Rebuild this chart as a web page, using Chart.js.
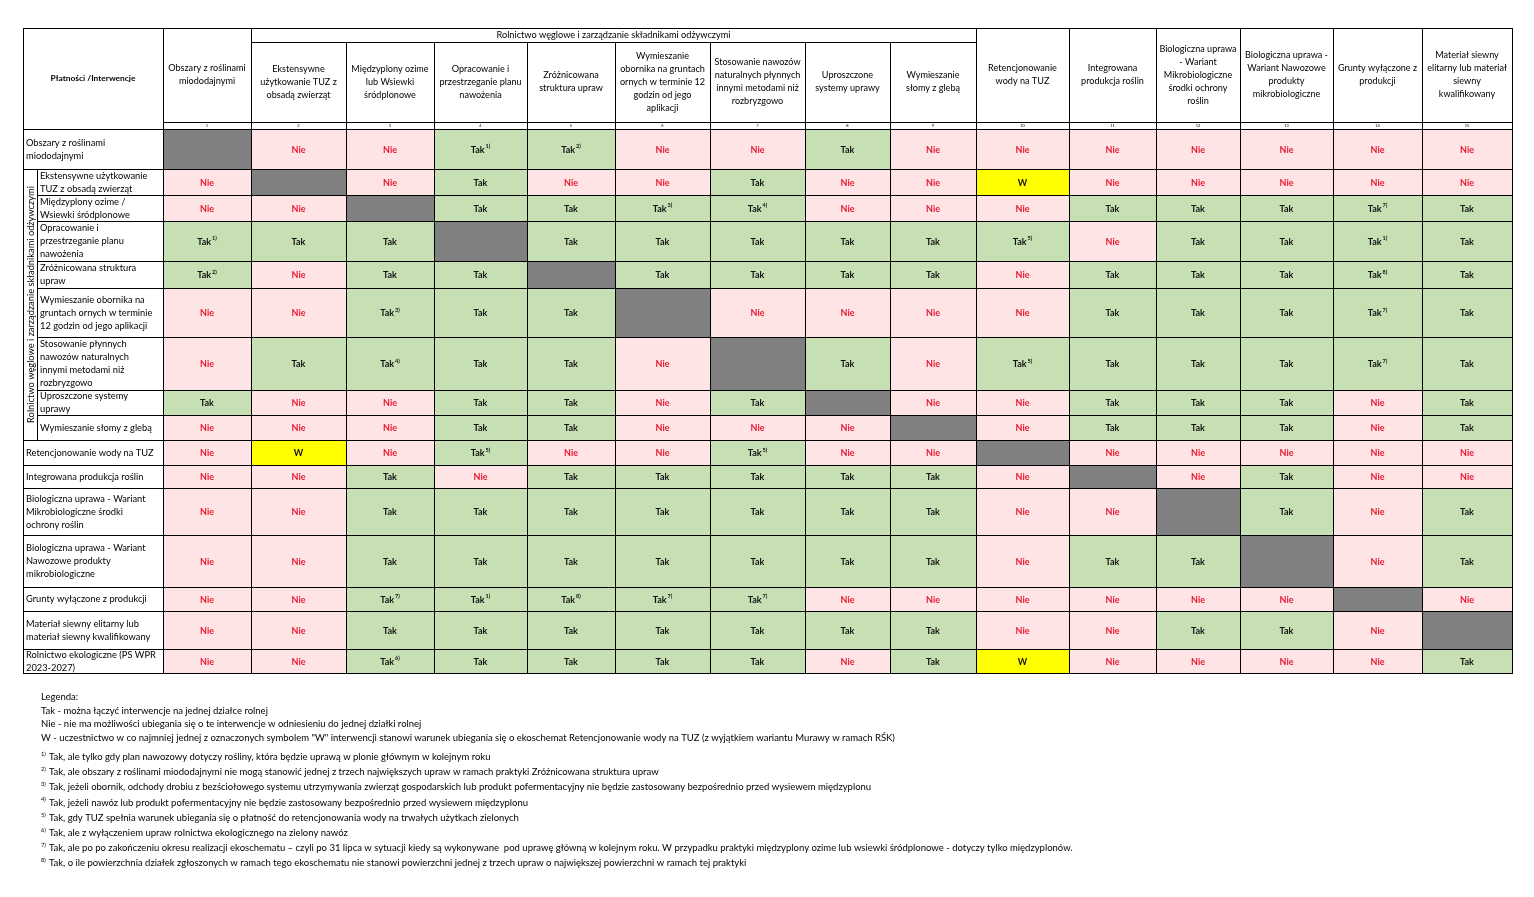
<!DOCTYPE html>
<html lang="pl">
<head>
  <meta charset="UTF-8">
  <title>Łączenie ekoschematów i interwencji</title>
  <script src="https://cdn.jsdelivr.net/npm/chart.js@4.4.0/dist/chart.umd.min.js"></script>
  <style>
    html, body { margin: 0; padding: 0; background: #fff; }
    #wrap { width: 1534px; height: 897px; }
  </style>
</head>
<body>
<div id="wrap"><canvas id="matrix" width="1534" height="897"></canvas></div>
<script>
  // nagłówki kolumn (interwencje)
  const colLabels = [
    ['Obszary z roślinami', 'miododajnymi'],
    ['Ekstensywne', 'użytkowanie TUZ z', 'obsadą zwierząt'],
    ['Międzyplony ozime', 'lub Wsiewki', 'śródplonowe'],
    ['Opracowanie i', 'przestrzeganie planu', 'nawożenia'],
    ['Zróżnicowana', 'struktura upraw'],
    ['Wymieszanie', 'obornika na gruntach', 'ornych w terminie 12', 'godzin od jego', 'aplikacji'],
    ['Stosowanie nawozów', 'naturalnych płynnych', 'innymi metodami niż', 'rozbryzgowo'],
    ['Uproszczone', 'systemy uprawy'],
    ['Wymieszanie', 'słomy z glebą'],
    ['Retencjonowanie', 'wody na TUZ'],
    ['Integrowana', 'produkcja roślin'],
    ['Biologiczna uprawa', '- Wariant', 'Mikrobiologiczne', 'środki ochrony', 'roślin'],
    ['Biologiczna uprawa -', 'Wariant Nawozowe', 'produkty', 'mikrobiologiczne'],
    ['Grunty wyłączone z', 'produkcji'],
    ['Materiał siewny', 'elitarny lub materiał', 'siewny', 'kwalifikowany']
  ];
  const colNumbers = ['1', '2', '3', '4', '5', '6', '7', '8', '9', '10', '11', '12', '13', '14', '15'];
  const cornerLabel = 'Płatności /Interwencje';
  const groupLabel = 'Rolnictwo węglowe i zarządzanie składnikami odżywczymi';
  // kolumny 2-9 i wiersze 2-9 należą do grupy
  const groupCols = [1, 8];
  const groupRows = [1, 8];

  // nagłówki wierszy
  const rowLabels = [
    ['Obszary z roślinami', 'miododajnymi'],
    ['Ekstensywne użytkowanie', 'TUZ z obsadą zwierząt'],
    ['Międzyplony ozime /', 'Wsiewki śródplonowe'],
    ['Opracowanie i', 'przestrzeganie planu', 'nawożenia'],
    ['Zróżnicowana struktura', 'upraw'],
    ['Wymieszanie obornika na', 'gruntach ornych w terminie', '12 godzin od jego aplikacji'],
    ['Stosowanie płynnych', 'nawozów naturalnych', 'innymi metodami niż', 'rozbryzgowo'],
    ['Uproszczone systemy', 'uprawy'],
    ['Wymieszanie słomy z glebą'],
    ['Retencjonowanie wody na TUZ'],
    ['Integrowana produkcja roślin'],
    ['Biologiczna uprawa - Wariant', 'Mikrobiologiczne środki', 'ochrony roślin'],
    ['Biologiczna uprawa - Wariant', 'Nawozowe produkty', 'mikrobiologiczne'],
    ['Grunty wyłączone z produkcji'],
    ['Materiał siewny elitarny lub', 'materiał siewny kwalifikowany'],
    ['Rolnictwo ekologiczne (PS WPR', '2023-2027)']
  ];

  // T = Tak, N = Nie, W = warunek, X = ta sama interwencja; cyfra = numer przypisu
  const matrix = [
    ['X', 'N', 'N', 'T1', 'T2', 'N', 'N', 'T', 'N', 'N', 'N', 'N', 'N', 'N', 'N'],
    ['N', 'X', 'N', 'T', 'N', 'N', 'T', 'N', 'N', 'W', 'N', 'N', 'N', 'N', 'N'],
    ['N', 'N', 'X', 'T', 'T', 'T3', 'T4', 'N', 'N', 'N', 'T', 'T', 'T', 'T7', 'T'],
    ['T1', 'T', 'T', 'X', 'T', 'T', 'T', 'T', 'T', 'T5', 'N', 'T', 'T', 'T1', 'T'],
    ['T2', 'N', 'T', 'T', 'X', 'T', 'T', 'T', 'T', 'N', 'T', 'T', 'T', 'T8', 'T'],
    ['N', 'N', 'T3', 'T', 'T', 'X', 'N', 'N', 'N', 'N', 'T', 'T', 'T', 'T7', 'T'],
    ['N', 'T', 'T4', 'T', 'T', 'N', 'X', 'T', 'N', 'T5', 'T', 'T', 'T', 'T7', 'T'],
    ['T', 'N', 'N', 'T', 'T', 'N', 'T', 'X', 'N', 'N', 'T', 'T', 'T', 'N', 'T'],
    ['N', 'N', 'N', 'T', 'T', 'N', 'N', 'N', 'X', 'N', 'T', 'T', 'T', 'N', 'T'],
    ['N', 'W', 'N', 'T5', 'N', 'N', 'T5', 'N', 'N', 'X', 'N', 'N', 'N', 'N', 'N'],
    ['N', 'N', 'T', 'N', 'T', 'T', 'T', 'T', 'T', 'N', 'X', 'N', 'T', 'N', 'N'],
    ['N', 'N', 'T', 'T', 'T', 'T', 'T', 'T', 'T', 'N', 'N', 'X', 'T', 'N', 'T'],
    ['N', 'N', 'T', 'T', 'T', 'T', 'T', 'T', 'T', 'N', 'T', 'T', 'X', 'N', 'T'],
    ['N', 'N', 'T7', 'T1', 'T8', 'T7', 'T7', 'N', 'N', 'N', 'N', 'N', 'N', 'X', 'N'],
    ['N', 'N', 'T', 'T', 'T', 'T', 'T', 'T', 'T', 'N', 'N', 'T', 'T', 'N', 'X'],
    ['N', 'N', 'T6', 'T', 'T', 'T', 'T', 'N', 'T', 'W', 'N', 'N', 'N', 'N', 'T']
  ];

  const legendLines = [
    'Legenda:',
    'Tak - można łączyć interwencje na jednej działce rolnej',
    'Nie - nie ma możliwości ubiegania się o te interwencje w odniesieniu do jednej działki rolnej',
    'W - uczestnictwo w co najmniej jednej z oznaczonych symbolem "W" interwencji stanowi warunek ubiegania się o ekoschemat Retencjonowanie wody na TUZ (z wyjątkiem wariantu Murawy w ramach RŚK)'
  ];
  const footnotes = [
    'Tak, ale tylko gdy plan nawozowy dotyczy rośliny, która będzie uprawą w plonie głównym w kolejnym roku',
    'Tak, ale obszary z roślinami miododajnymi nie mogą stanowić jednej z trzech największych upraw w ramach praktyki Zróżnicowana struktura upraw',
    'Tak, jeżeli obornik, odchody drobiu z bezściołowego systemu utrzymywania zwierząt gospodarskich lub produkt pofermentacyjny nie będzie zastosowany bezpośrednio przed wysiewem międzyplonu',
    'Tak, jeżeli nawóz lub produkt pofermentacyjny nie będzie zastosowany bezpośrednio przed wysiewem międzyplonu',
    'Tak, gdy TUZ spełnia warunek ubiegania się o płatność do retencjonowania wody na trwałych użytkach zielonych',
    'Tak, ale z wyłączeniem upraw rolnictwa ekologicznego na zielony nawóz',
    'Tak, ale po po zakończeniu okresu realizacji ekoschematu – czyli po 31 lipca w sytuacji kiedy są wykonywane  pod uprawę główną w kolejnym roku. W przypadku praktyki międzyplony ozime lub wsiewki śródplonowe - dotyczy tylko międzyplonów.',
    'Tak, o ile powierzchnia działek zgłoszonych w ramach tego ekoschematu nie stanowi powierzchni jednej z trzech upraw o największej powierzchni w ramach tej praktyki'
  ];

  // układ tabeli (jednostki skali = piksele strony)
  const tableLeft = 23, groupColW = 14, labelW = 140;
  const colWidths = [88, 95, 88, 93, 88, 95, 95, 85, 86, 93, 87, 84, 93, 89, 90];
  const headTop = 28, groupHeadH = 14, headH = 94, numRowH = 7;
  const rowHeights = [40, 26, 26, 40, 27, 49, 53, 25, 25, 25, 23, 47, 52, 24, 38, 24];
  const legendTop = 697, legendStep = 13.5, footTop = 757, footStep = 15.2;

  const colEdges = [tableLeft + labelW];
  colWidths.forEach(w => colEdges.push(colEdges[colEdges.length - 1] + w));
  const bodyTop = headTop + headH + numRowH;
  const rowEdges = [bodyTop];
  rowHeights.forEach(h => rowEdges.push(rowEdges[rowEdges.length - 1] + h));

  const fills = { T: '#C6E0B4', N: '#FFE4E6', W: '#FFFF00', X: '#808080' };
  const words = { T: 'Tak', N: 'Nie', W: 'W', X: '' };
  const inks = { T: '#111111', N: '#E8172F', W: '#111111', X: '#111111' };
  const FONT = 'Lato, "Open Sans", sans-serif';

  const points = [];
  matrix.forEach((row, r) => row.forEach((code, c) => {
    points.push({
      x: (colEdges[c] + colEdges[c + 1]) / 2,
      y: (rowEdges[r] + rowEdges[r + 1]) / 2,
      r, c, code
    });
  }));

  const tablePlugin = {
    id: 'tablePlugin',
    beforeDatasetsDraw(chart) {
      const ctx = chart.ctx;
      const sx = chart.scales.x, sy = chart.scales.y;
      const X = v => sx.getPixelForValue(v);
      const Y = v => sy.getPixelForValue(v);
      const L = v => Math.round(v) + 0.5;

      function box(x0, y0, x1, y1, fill) {
        const a = L(X(x0)), b = L(Y(y0)), c = L(X(x1)), d = L(Y(y1));
        if (fill) { ctx.fillStyle = fill; ctx.fillRect(a, b, c - a, d - b); }
        ctx.strokeStyle = '#000';
        ctx.lineWidth = 1;
        ctx.strokeRect(a, b, c - a, d - b);
      }
      function lines(arr, x, cy, lh, size, align, weight) {
        ctx.font = (weight || '') + ' ' + size + 'px ' + FONT;
        ctx.textAlign = align;
        ctx.textBaseline = 'middle';
        ctx.fillStyle = '#000';
        const start = cy - (arr.length - 1) * lh / 2;
        arr.forEach((t, i) => ctx.fillText(t, X(x), Y(start + i * lh)));
      }
      function supText(word, sup, cx, cy, size, color) {
        ctx.textBaseline = 'middle';
        ctx.textAlign = 'left';
        ctx.font = 'bold ' + size + 'px ' + FONT;
        const w = ctx.measureText(word).width;
        let s = 0;
        if (sup) {
          ctx.font = 'bold ' + (size * 0.62) + 'px ' + FONT;
          s = ctx.measureText(sup).width + 1;
        }
        const x0 = X(cx) - (w + s) / 2;
        ctx.fillStyle = color;
        ctx.font = 'bold ' + size + 'px ' + FONT;
        ctx.fillText(word, x0, Y(cy) + 1);
        if (sup) {
          ctx.font = 'bold ' + (size * 0.62) + 'px ' + FONT;
          ctx.fillText(sup, x0 + w + 1, Y(cy) - 2.5);
        }
      }

      ctx.save();
      // nagłówek
      box(tableLeft, headTop, colEdges[0], bodyTop, '#fff');
      lines([cornerLabel], (tableLeft + colEdges[0]) / 2, (headTop + bodyTop) / 2, 12, 8.4, 'center', 'bold');
      box(colEdges[groupCols[0]], headTop, colEdges[groupCols[1] + 1], headTop + groupHeadH, '#fff');
      lines([groupLabel], (colEdges[groupCols[0]] + colEdges[groupCols[1] + 1]) / 2, headTop + groupHeadH / 2, 12, 9.2, 'center');
      colLabels.forEach((lab, c) => {
        const inGroup = c >= groupCols[0] && c <= groupCols[1];
        const top = inGroup ? headTop + groupHeadH : headTop;
        box(colEdges[c], top, colEdges[c + 1], headTop + headH, '#fff');
        lines(lab, (colEdges[c] + colEdges[c + 1]) / 2, (top + headTop + headH) / 2, 13, 9.1, 'center');
        box(colEdges[c], headTop + headH, colEdges[c + 1], bodyTop, '#fff');
        lines([colNumbers[c]], (colEdges[c] + colEdges[c + 1]) / 2, headTop + headH + numRowH / 2 + 0.5, 5, 4, 'center');
      });

      // nagłówki wierszy
      rowLabels.forEach((lab, r) => {
        const inGroup = r >= groupRows[0] && r <= groupRows[1];
        const left = inGroup ? tableLeft + groupColW : tableLeft;
        box(left, rowEdges[r], colEdges[0], rowEdges[r + 1], '#fff');
        lines(lab, left + 3, (rowEdges[r] + rowEdges[r + 1]) / 2, 13, 9.3, 'left');
      });
      const gTop = rowEdges[groupRows[0]], gBot = rowEdges[groupRows[1] + 1];
      box(tableLeft, gTop, tableLeft + groupColW, gBot, '#fff');
      ctx.save();
      ctx.translate(X(tableLeft + groupColW / 2 + 0.5), Y((gTop + gBot) / 2));
      ctx.rotate(-Math.PI / 2);
      ctx.font = '9.3px ' + FONT;
      ctx.textAlign = 'center';
      ctx.textBaseline = 'middle';
      ctx.fillStyle = '#000';
      ctx.fillText(groupLabel, 0, 0);
      ctx.restore();

      // komórki macierzy
      chart.data.datasets[0].data.forEach(p => {
        const kind = p.code.charAt(0);
        const sup = p.code.length > 1 ? p.code.slice(1) + ')' : '';
        box(colEdges[p.c], rowEdges[p.r], colEdges[p.c + 1], rowEdges[p.r + 1], fills[kind]);
        if (words[kind]) supText(words[kind], sup, p.x, p.y, 9, inks[kind]);
      });

      // legenda
      ctx.fillStyle = '#000';
      ctx.textAlign = 'left';
      ctx.textBaseline = 'middle';
      ctx.font = '9.5px ' + FONT;
      legendLines.forEach((t, i) => ctx.fillText(t, X(41), Y(legendTop + i * legendStep)));
      footnotes.forEach((t, i) => {
        const yy = footTop + i * footStep;
        ctx.font = '5.8px ' + FONT;
        ctx.fillText((i + 1) + ')', X(41), Y(yy - 3));
        ctx.font = '9.5px ' + FONT;
        ctx.fillText(t, X(49), Y(yy));
      });
      ctx.restore();
    }
  };

  new Chart(document.getElementById('matrix'), {
    type: 'scatter',
    data: {
      datasets: [{
        label: 'Łączenie interwencji',
        data: points,
        pointRadius: 0,
        pointHoverRadius: 0
      }]
    },
    options: {
      responsive: false,
      animation: false,
      events: [],
      layout: { padding: 0 },
      plugins: { legend: { display: false }, tooltip: { enabled: false } },
      scales: {
        x: { type: 'linear', min: 0, max: 1534, display: false },
        y: { type: 'linear', min: 0, max: 897, reverse: true, display: false }
      }
    },
    plugins: [tablePlugin]
  });
</script>
</body>
</html>
